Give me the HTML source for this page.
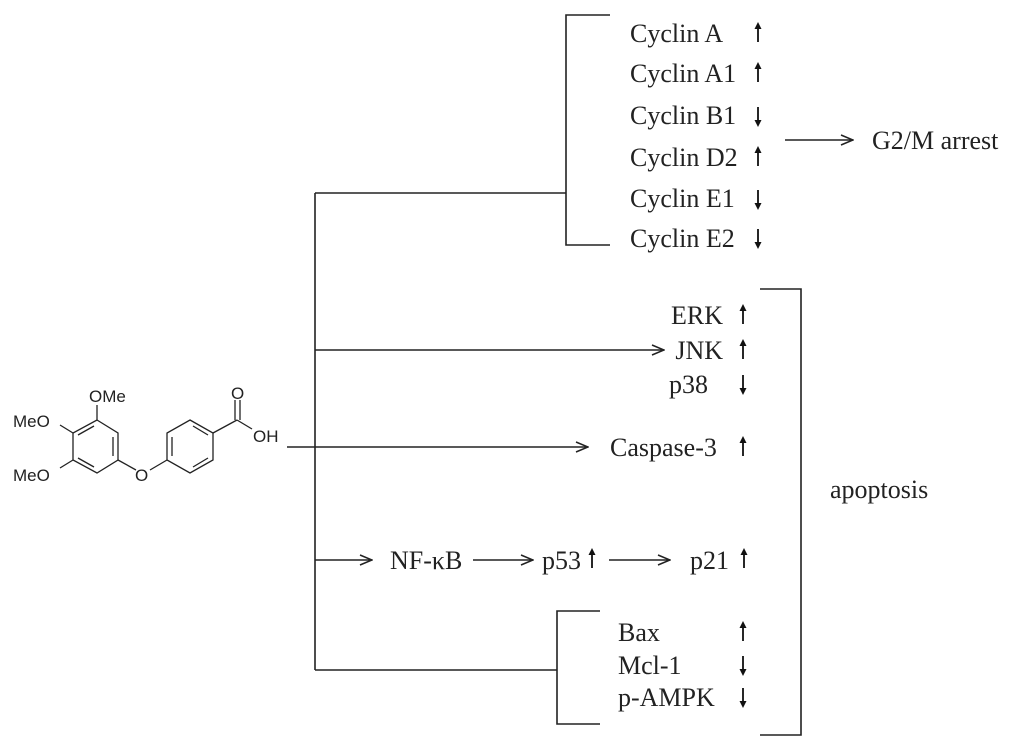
<!DOCTYPE html>
<html><head><meta charset="utf-8"><style>
html,body{margin:0;padding:0;background:#fff;}
</style></head><body>
<svg width="1024" height="745" viewBox="0 0 1024 745" xmlns="http://www.w3.org/2000/svg" style="display:block">
<defs>
<marker id="a" markerWidth="14" markerHeight="12" refX="13" refY="6" orient="auto" markerUnits="userSpaceOnUse"><path d="M1,1 L13,6 L1,11" fill="none" stroke="#222" stroke-width="1.5"/></marker>
<g id="up"><line x1="0" y1="-8" x2="0" y2="9" stroke="#111" stroke-width="1.8"/><path d="M-3.5,-4 L0,-11 L3.5,-4 Z" fill="#111"/></g>
<g id="dn"><line x1="0" y1="-9" x2="0" y2="8" stroke="#111" stroke-width="1.8"/><path d="M-3.5,4 L0,11 L3.5,4 Z" fill="#111"/></g>
</defs>
<g stroke="#222" stroke-width="1.6" fill="none">
<line x1="315" y1="193" x2="315" y2="670"/>
<line x1="315" y1="193" x2="566" y2="193"/>
<polyline points="610,15 566,15 566,245 610,245"/>
<line x1="785" y1="140" x2="853" y2="140" marker-end="url(#a)"/>
<line x1="315" y1="350" x2="664" y2="350" marker-end="url(#a)"/>
<line x1="287" y1="447" x2="588" y2="447" marker-end="url(#a)"/>
<line x1="315" y1="560" x2="372" y2="560" marker-end="url(#a)"/>
<line x1="473" y1="560" x2="533" y2="560" marker-end="url(#a)"/>
<line x1="609" y1="560" x2="670" y2="560" marker-end="url(#a)"/>
<line x1="315" y1="670" x2="557" y2="670"/>
<polyline points="600,611 557,611 557,724 600,724"/>
<polyline points="760,289 801,289 801,735 760,735"/>
<g stroke-width="1.3">
<polygon points="97,420 118,433 118,460 97,473 73,460 73,433"/>
<line x1="113" y1="437" x2="113" y2="456"/><line x1="94" y1="467" x2="78" y2="458"/><line x1="78" y1="435" x2="94" y2="426"/>
<line x1="97" y1="420" x2="97" y2="405"/>
<line x1="73" y1="433" x2="60" y2="425"/>
<line x1="73" y1="460" x2="60" y2="468"/>
<line x1="118" y1="460" x2="136" y2="470"/>
<line x1="150" y1="470" x2="167" y2="460"/>
<polygon points="190,420 213,433 213,460 190,473 167,460 167,433"/>
<line x1="172" y1="437" x2="172" y2="456"/><line x1="193" y1="426" x2="208" y2="435"/><line x1="208" y1="458" x2="193" y2="467"/>
<line x1="213" y1="433" x2="237" y2="420"/>
<line x1="235" y1="420" x2="235" y2="400"/><line x1="240" y1="420" x2="240" y2="400"/>
<line x1="237" y1="420" x2="252" y2="429"/>
</g>
</g>
<g font-family="Liberation Sans, sans-serif" font-size="17" fill="#222">
<text x="89" y="402">OMe</text>
<text x="13" y="427">MeO</text>
<text x="13" y="481">MeO</text>
<text x="135" y="481">O</text>
<text x="231" y="399">O</text>
<text x="253" y="442">OH</text>
</g>
<g font-family="Liberation Serif, serif" font-size="26" fill="#222">
<text x="630" y="42">Cyclin A</text>
<text x="630" y="82">Cyclin A1</text>
<text x="630" y="124">Cyclin B1</text>
<text x="630" y="166">Cyclin D2</text>
<text x="630" y="207">Cyclin E1</text>
<text x="630" y="247">Cyclin E2</text>
<text x="872" y="149">G2/M arrest</text>
<text x="723" y="324" text-anchor="end">ERK</text>
<text x="723" y="359" text-anchor="end">JNK</text>
<text x="669" y="393">p38</text>
<text x="610" y="456">Caspase-3</text>
<text x="390" y="569">NF-κB</text>
<text x="542" y="569">p53</text>
<text x="690" y="569">p21</text>
<text x="618" y="641">Bax</text>
<text x="618" y="674">Mcl-1</text>
<text x="618" y="706">p-AMPK</text>
<text x="830" y="498">apoptosis</text>
</g>
<use href="#up" x="758" y="33"/><use href="#up" x="758" y="73"/><use href="#dn" x="758" y="116"/>
<use href="#up" x="758" y="157"/><use href="#dn" x="758" y="199"/><use href="#dn" x="758" y="238"/>
<use href="#up" x="743" y="315"/><use href="#up" x="743" y="350"/><use href="#dn" x="743" y="384"/>
<use href="#up" x="743" y="447"/>
<use href="#up" x="592" y="559"/><use href="#up" x="744" y="559"/>
<use href="#up" x="743" y="632"/><use href="#dn" x="743" y="665"/><use href="#dn" x="743" y="697"/>
</svg>
</body></html>
